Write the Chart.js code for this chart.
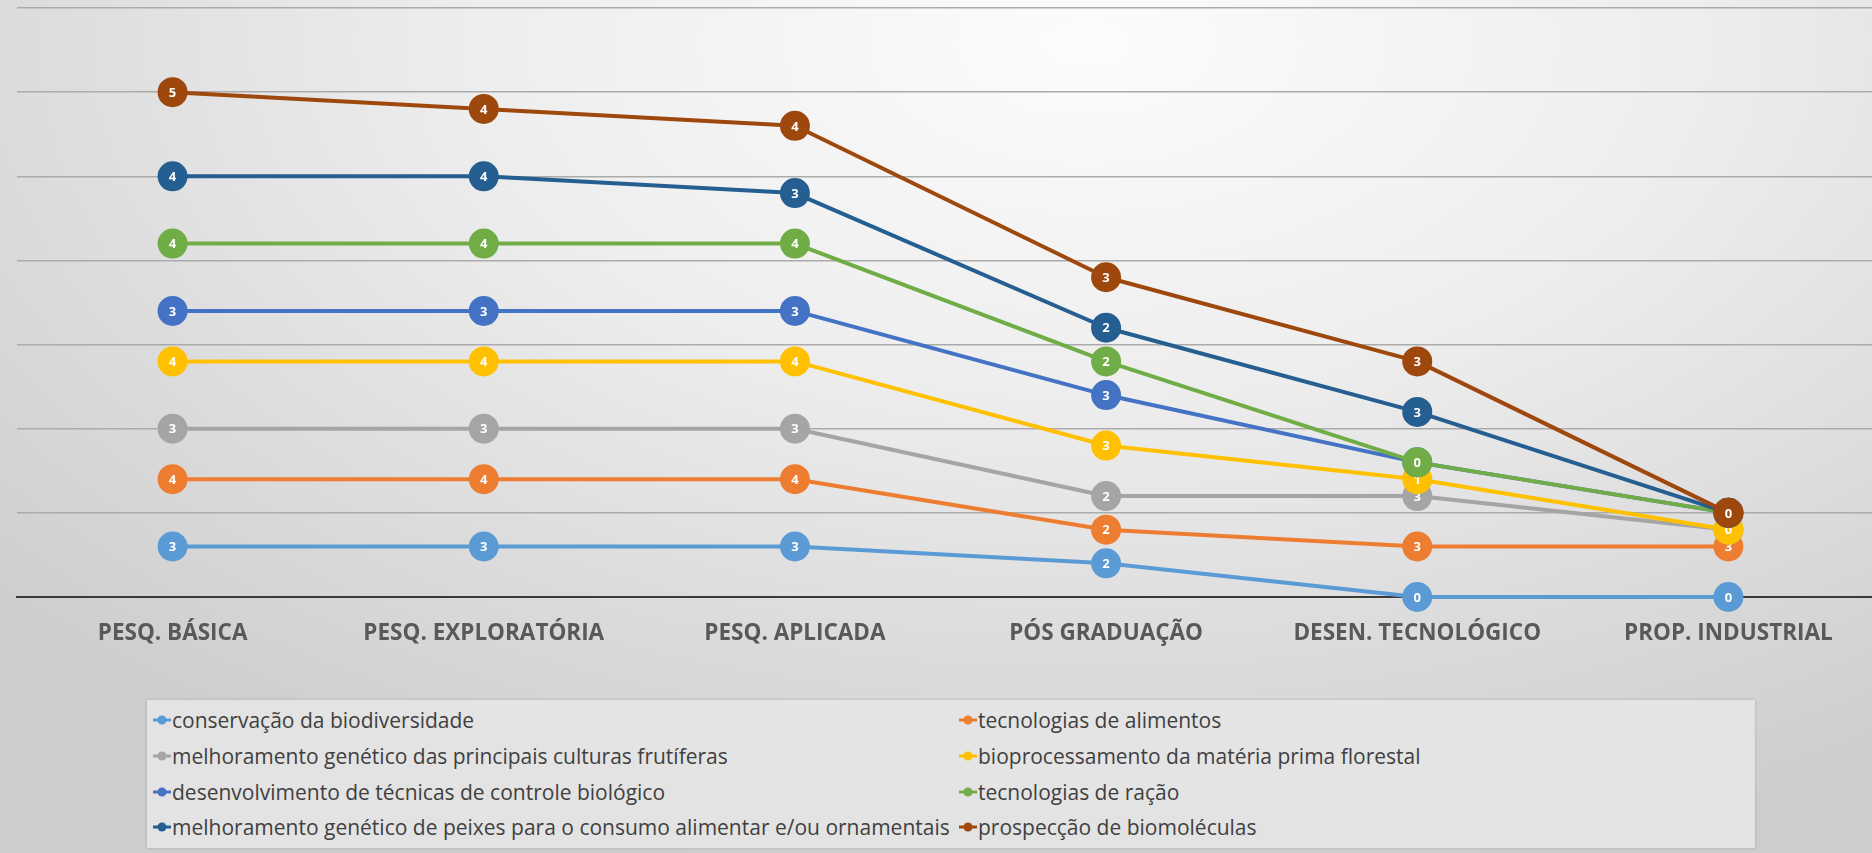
<!DOCTYPE html>
<html><head><meta charset="utf-8">
<script src="https://cdn.jsdelivr.net/npm/chart.js@4.4.0/dist/chart.umd.min.js"></script>
<style>
html,body{margin:0;padding:0;width:1872px;height:853px;overflow:hidden;}
body{background: radial-gradient(ellipse 80% 100% at 58% 5%, #fcfcfc 0%, #eeeeee 40%, #dadada 75%, #cdcdcd 100%);font-family:"Open Sans",sans-serif;}
#wrap{position:absolute;left:0;top:0;width:1884px;height:670px;}
#c{width:1884px;height:670px;display:block;}
#legend{position:absolute;left:147px;top:700px;width:1608px;height:148px;background:rgba(230,230,230,0.85);box-shadow:0 0 3px rgba(0,0,0,0.18);}
.item{position:absolute;height:30px;display:flex;align-items:center;font-size:21px;color:#404040;white-space:nowrap;}
.item svg{margin-right:1px;}
</style></head>
<body>
<div id="wrap"><canvas id="c" width="1884" height="670"></canvas></div>
<div id="legend"></div>
<script>
const categories = ['PESQ. BÁSICA','PESQ. EXPLORATÓRIA','PESQ. APLICADA','PÓS GRADUAÇÃO','DESEN. TECNOLÓGICO','PROP. INDUSTRIAL'];
const seriesNames = [
  'conservação da biodiversidade',
  'tecnologias de alimentos',
  'melhoramento genético das principais culturas frutíferas',
  'bioprocessamento da matéria prima florestal',
  'desenvolvimento de técnicas de controle biológico',
  'tecnologias de ração',
  'melhoramento genético de peixes para o consumo alimentar e/ou ornamentais',
  'prospecção de biomoléculas'
];
const conservacao   = [3,3,3,2,0,0];
const alimentos     = [4,4,4,2,3,3];
const frutiferas    = [3,3,3,2,3,1];
const bioprocesso   = [4,4,4,3,1,0];
const controleBio   = [3,3,3,3,1,1];
const racao         = [4,4,4,2,0,0];
const peixes        = [4,4,3,2,3,0];
const biomoleculas  = [5,4,4,3,3,0];
const seriesValues = [conservacao, alimentos, frutiferas, bioprocesso, controleBio, racao, peixes, biomoleculas];
const colors = ['#5B9BD5','#ED7D31','#A5A5A5','#FFC000','#4472C4','#70AD47','#255E91','#9E480E'];

const datasets = seriesNames.map((n,i)=>({
  label:n, data:seriesValues[i], borderColor:colors[i], backgroundColor:colors[i],
  borderWidth:4, pointRadius:14, pointBorderWidth:2, pointBorderColor:colors[i], pointBackgroundColor:colors[i],
  fill:false, tension:0, borderJoinStyle:'round', borderCapStyle:'round'
}));

const excelOrder = {
  id:'excelOrder',
  beforeDatasetsDraw(chart){
    const ctx = chart.ctx, area = chart.chartArea;
    chart.data.datasets.forEach((ds,i)=>{
      const meta = chart.getDatasetMeta(i);
      meta.dataset.draw(ctx, area);
      meta.data.forEach((pt,j)=>{
        pt.draw(ctx, area);
        ctx.save();
        ctx.fillStyle='#ffffff';
        ctx.font='bold 13px "Open Sans"';
        ctx.textAlign='center'; ctx.textBaseline='middle';
        ctx.fillText(String(ds.data[j]), pt.x, pt.y+1);
        ctx.restore();
      });
    });
    return false;
  }
};

new Chart(document.getElementById('c'), {
  type:'line',
  data:{labels:categories, datasets},
  options:{
    responsive:false, maintainAspectRatio:false, animation:false, devicePixelRatio:1,
    layout:{autoPadding:false, padding:{left:17,right:0,top:8,bottom:0}},
    plugins:{legend:{display:false}, tooltip:{enabled:false}},
    scales:{
      x:{offset:true, grid:{display:false, drawTicks:false},
         border:{display:true,color:'#3a3a3a',width:2},
         ticks:{padding:23,color:'#595959',font:{family:'"Open Sans"',size:22.5,weight:'bold',lineHeight:1.2}}},
      y:{stacked:true,min:0,max:35,
         ticks:{display:false,stepSize:5},
         border:{display:false},
         grid:{color:'#ababab',lineWidth:1.5,drawTicks:false}}
    }
  },
  plugins:[excelOrder]
});

const leg = document.getElementById('legend');
const colX = [6, 812];
const rowY = [5, 41, 77, 112];
seriesNames.forEach((n,i)=>{
  const d = document.createElement('div');
  d.className='item';
  d.style.left = colX[i%2]+'px';
  d.style.top = rowY[Math.floor(i/2)]+'px';
  d.innerHTML = '<svg width="18" height="12"><line x1="0" y1="6" x2="18" y2="6" stroke="'+colors[i]+'" stroke-width="3"/><circle cx="9" cy="6" r="4.5" fill="'+colors[i]+'"/></svg>';
  const s = document.createElement('span'); s.textContent = n; d.appendChild(s);
  leg.appendChild(d);
});
</script>
</body></html>
